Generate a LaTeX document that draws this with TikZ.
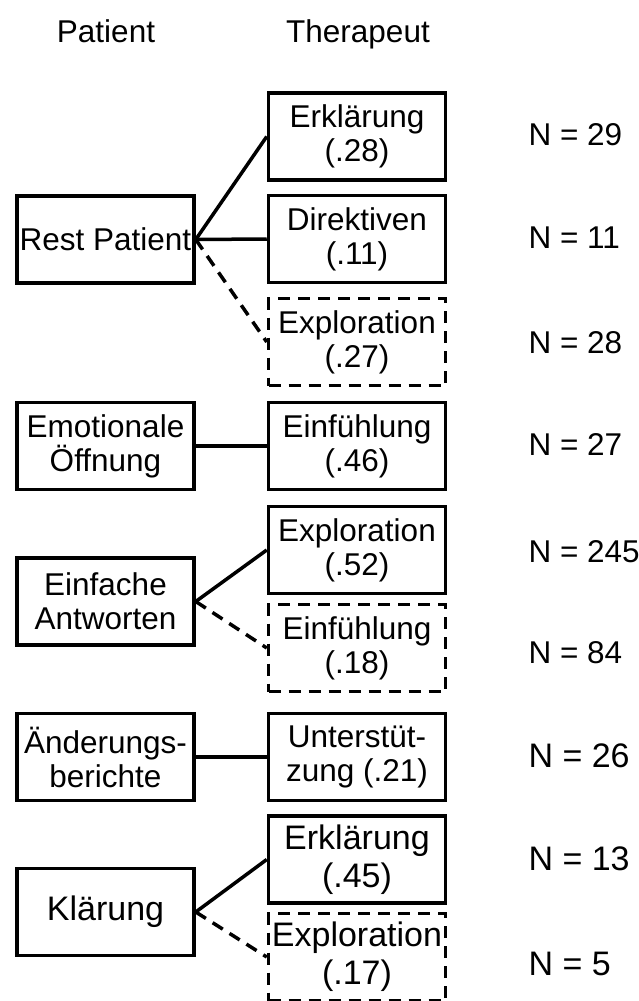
\documentclass[tikz,border=0pt]{standalone}
\usepackage{fontspec}
\setmainfont{Liberation Sans}
\usepackage{tikz}

\begin{document}
\begin{tikzpicture}[x=1pt, y=-1pt,
  box/.style={draw, line width=3.5pt, minimum width=177pt, minimum height=87pt, inner sep=0pt, align=center, font=\fontsize{31.5}{34}\selectfont},
  dbox/.style={box, dash pattern=on 12pt off 8pt},
  big/.style={font=\fontsize{34}{38}\selectfont},
  head/.style={anchor=base, font=\fontsize{31.5}{34}\selectfont},
  count/.style={anchor=base west, font=\fontsize{31.5}{34}\selectfont},
  link/.style={line width=3.5pt},
  dlink/.style={link, dash pattern=on 12pt off 8pt}]
\clip (0,0) rectangle (638,1001);

\node[head] (patient) at (106,42) {Patient};
\node[head] (therapeut) at (358,42) {Therapeut};

% Patient
\node[box] (rest) at (105.5,239.5) {Rest Patient};
\node[box] (emo) at (105.5,446) {Emotionale\\Öffnung};
\node[box] (einf) at (105.5,601.5) {Einfache\\Antworten};
\node[box] (aend) at (105.5,757) {Änderungs-\\berichte};
\node[box, big] (klaer) at (105.5,912) {Klärung};

% Therapeut
\node[box] (erk1) at (357,136.5) {Erklärung\\(.28)};
\node[box] (dir) at (357,239) {Direktiven\\(.11)};
\node[dbox] (exp1) at (357,342) {Exploration\\(.27)};
\node[box] (ein1) at (357,446) {Einfühlung\\(.46)};
\node[box] (exp2) at (357,550) {Exploration\\(.52)};
\node[dbox] (ein2) at (357,648) {Einfühlung\\(.18)};
\node[box] (unt) at (357,757) {Unterstüt-\\zung (.21)};
\node[box, big] (erk2) at (357,859.5) {Erklärung\\(.45)};
\node[dbox, big] (exp3) at (357,957) {Exploration\\(.17)};

\draw[link] (rest.east) -- (erk1.west);
\draw[link] (rest.east) -- (dir.west);
\draw[dlink] (rest.east) -- (exp1.west);
\draw[link] (emo.east) -- (ein1.west);
\draw[link] (einf.east) -- (exp2.west);
\draw[dlink] (einf.east) -- (ein2.west);
\draw[link] (aend.east) -- (unt.west);
\draw[link] (klaer.east) -- (erk2.west);
\draw[dlink] (klaer.east) -- (exp3.west);

% N
\node[count] (n1) at (525,145) {N = 29};
\node[count] (n2) at (525,248) {N = 11};
\node[count] (n3) at (525,353) {N = 28};
\node[count] (n4) at (525,455) {N = 27};
\node[count] (n5) at (525,562) {N = 245};
\node[count] (n6) at (525,663) {N = 84};
\node[count, big] (n7) at (525,767) {N = 26};
\node[count, big] (n8) at (525,870) {N = 13};
\node[count, big] (n9) at (525,975) {N = 5};
\end{tikzpicture}
\end{document}
